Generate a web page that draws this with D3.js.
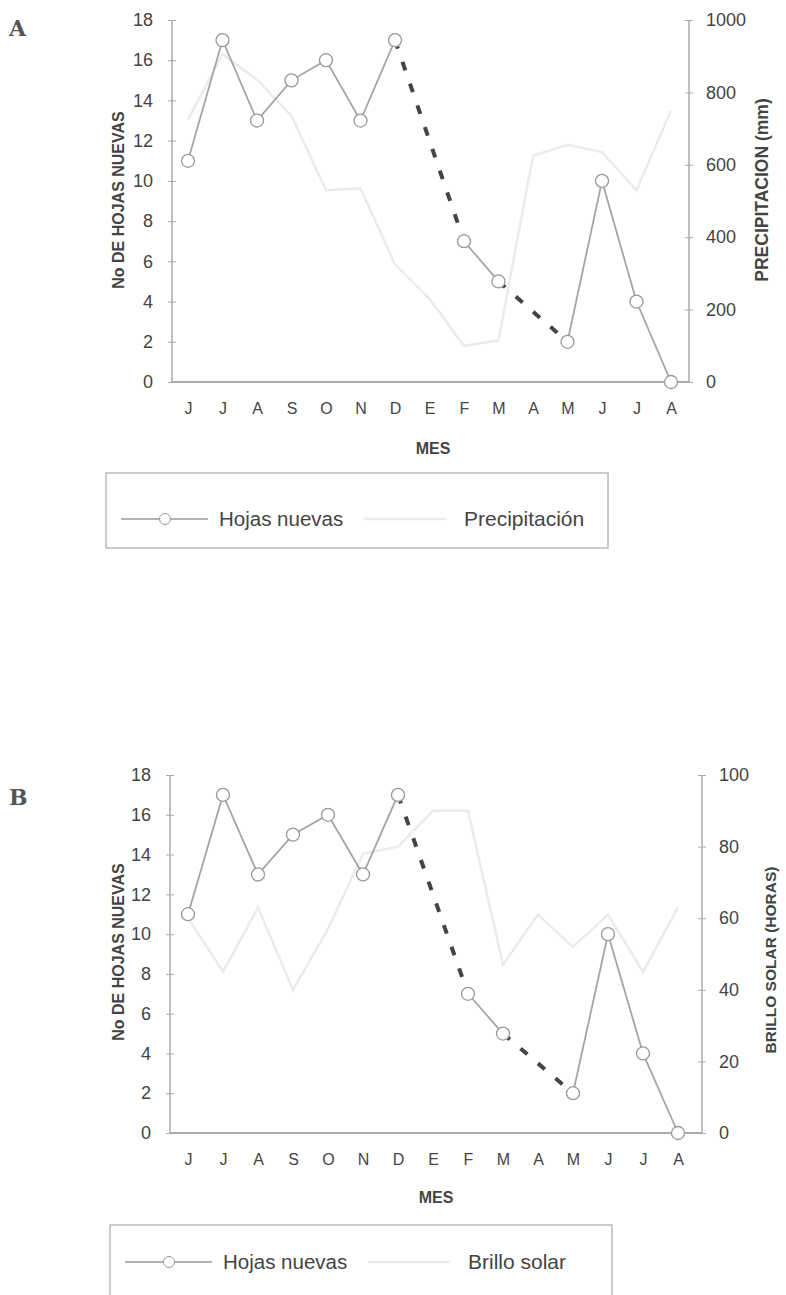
<!DOCTYPE html>
<html>
<head>
<meta charset="utf-8">
<script src="https://cdn.jsdelivr.net/npm/d3@7"></script>
<style>
  body { margin: 0; background: #fff; }
  svg text { font-family: "Liberation Sans", Arial, sans-serif; fill: #444; }
</style>
</head>
<body>
<div id="chart"></div>
<script>
const months = ["J", "J", "A", "S", "O", "N", "D", "E", "F", "M", "A", "M", "J", "J", "A"];
const hojasNuevas = [11, 17, 13, 15, 16, 13, 17, null, 7, 5, null, 2, 10, 4, 0];
const precipitacion = [725, 905, 835, 735, 530, 535, 325, 230, 100, 115, 625, 655, 635, 530, 750];
const brilloSolar = [60, 45, 63, 40, 57, 78, 80, 90, 90, 47, 61, 52, 61, 45, 63];
const hojasTicks = [0, 2, 4, 6, 8, 10, 12, 14, 16, 18];
const precipTicks = [0, 200, 400, 600, 800, 1000];
const brilloTicks = [0, 20, 40, 60, 80, 100];

let svg = d3.select("#chart").append("svg")
    .attr("width", 786)
    .attr("height", 1295);

function styleTicks(sel, size) {
    sel.selectAll("text")
        .style("font-size", size + "px")
        .style("fill", "#444")
        .style("font-family", "'Liberation Sans', Arial, sans-serif");
}

function drawPanel(p) {
    let x = d3.scalePoint()
        .domain(d3.range(months.length))
        .range([p.x0, p.x1]);
    let yL = d3.scaleLinear().domain([0, 18]).range([p.yBottom, p.yTop]);
    let yR = d3.scaleLinear().domain([0, p.rMax]).range([p.yBottom, p.yTop]);

    let g = svg.append("g");

    // panel letter
    g.append("text")
        .attr("x", 9).attr("y", p.letterY)
        .style("font-family", "'DejaVu Serif', 'Liberation Serif', serif")
        .style("font-weight", "bold")
        .style("font-size", "22px")
        .style("fill", "#555")
        .text(p.letter);

    // left axis
    let left = g.append("g")
        .attr("transform", "translate(" + p.axL + ",0)")
        .call(d3.axisLeft(yL).tickValues(hojasTicks).tickSize(4).tickPadding(15));
    left.selectAll("line").attr("x2", 4).attr("x1", -4).attr("stroke", "#aaa");
    left.select(".domain").attr("stroke", "#aaa").attr("stroke-width", 1.5).attr("d", "M0," + p.yBottom + "V" + p.yTop);
    styleTicks(left, 18);

    // right axis
    let right = g.append("g")
        .attr("transform", "translate(" + p.axR + ",0)")
        .call(d3.axisRight(yR).tickValues(p.rTicks).tickSize(4).tickPadding(13).tickFormat(d3.format("d")));
    right.selectAll("line").attr("x1", -4).attr("x2", 4).attr("stroke", "#aaa");
    right.select(".domain").attr("stroke", "#aaa").attr("stroke-width", 1.5).attr("d", "M0," + p.yBottom + "V" + p.yTop);
    styleTicks(right, 18);

    // bottom axis
    let bottom = g.append("g")
        .attr("transform", "translate(0," + p.yBottom + ")")
        .call(d3.axisBottom(x).tickSize(0).tickPadding(21).tickFormat(i => months[i]));
    bottom.select(".domain").attr("stroke", "#aaa").attr("stroke-width", 2)
        .attr("d", "M" + p.axL + ",0H" + p.axR);
    styleTicks(bottom, 16);

    // axis titles
    g.append("text")
        .attr("transform", "translate(" + p.titleLX + "," + p.titleLY + ") rotate(-90)")
        .attr("text-anchor", "middle")
        .style("font-weight", "bold").style("font-size", "16px")
        .text("No DE HOJAS NUEVAS");
    g.append("text")
        .attr("transform", "translate(" + p.titleRX + "," + p.titleRY + ") rotate(-90)")
        .attr("text-anchor", "middle")
        .style("font-weight", "bold").style("font-size", p.rTitleSize + "px")
        .text(p.rTitle);
    g.append("text")
        .attr("x", p.mesX).attr("y", p.mesY)
        .attr("text-anchor", "middle")
        .style("font-weight", "bold").style("font-size", "16px")
        .text("MES");

    // secondary series (very light)
    let lineR = d3.line().x((d, i) => x(i)).y(d => yR(d));
    g.append("path")
        .datum(p.rValues)
        .attr("d", lineR)
        .attr("fill", "none")
        .attr("stroke", "#ebebeb")
        .attr("stroke-width", 2.5);

    // dashed bridges over missing months
    let idx = hojasNuevas.map((d, i) => d == null ? null : i).filter(i => i != null);
    for (let k = 1; k < idx.length; k++) {
        if (idx[k] - idx[k - 1] > 1) {
            g.append("line")
                .attr("x1", x(idx[k - 1])).attr("y1", yL(hojasNuevas[idx[k - 1]]))
                .attr("x2", x(idx[k])).attr("y2", yL(hojasNuevas[idx[k]]))
                .attr("stroke", "#444")
                .attr("stroke-width", 4)
                .attr("stroke-dasharray", "9,14");
        }
    }

    // hojas nuevas
    let lineL = d3.line().defined(d => d != null).x((d, i) => x(i)).y(d => yL(d));
    g.append("path")
        .datum(hojasNuevas)
        .attr("d", lineL)
        .attr("fill", "none")
        .attr("stroke", "#a5a5a5")
        .attr("stroke-width", 1.8);

    g.selectAll("circle.pt")
        .data(hojasNuevas.map((d, i) => ({v: d, i: i})).filter(d => d.v != null))
        .enter()
        .append("circle")
        .attr("class", "pt")
        .attr("cx", d => x(d.i))
        .attr("cy", d => yL(d.v))
        .attr("r", 6.5)
        .attr("fill", "#fff")
        .attr("stroke", "#999")
        .attr("stroke-width", 1.3);

    // legend
    let lg = g.append("g");
    lg.append("rect")
        .attr("x", p.lgX).attr("y", p.lgY)
        .attr("width", p.lgW).attr("height", p.lgH)
        .attr("fill", "none")
        .attr("stroke", "#bbb")
        .attr("stroke-width", 1.5);
    let ly = p.lgY + p.lgLine;
    lg.append("line")
        .attr("x1", p.lgX + 15).attr("x2", p.lgX + 102)
        .attr("y1", ly).attr("y2", ly)
        .attr("stroke", "#999").attr("stroke-width", 1.5);
    lg.append("circle")
        .attr("cx", p.lgX + 59).attr("cy", ly).attr("r", 5.5)
        .attr("fill", "#fff").attr("stroke", "#999");
    lg.append("text")
        .attr("x", p.lgX + 113).attr("y", ly + 7)
        .style("font-size", "20.5px")
        .text("Hojas nuevas");
    lg.append("line")
        .attr("x1", p.lgX + 258).attr("x2", p.lgX + 340)
        .attr("y1", ly).attr("y2", ly)
        .attr("stroke", "#ebebeb").attr("stroke-width", 2.5);
    lg.append("text")
        .attr("x", p.lgText2).attr("y", ly + 7)
        .style("font-size", "21px")
        .text(p.rLegend);
}

drawPanel({
    letter: "A", letterY: 36,
    x0: 188, x1: 671, axL: 172, axR: 689,
    yTop: 20, yBottom: 382,
    rMax: 1000, rTicks: precipTicks, rValues: precipitacion,
    rTitle: "PRECIPITACION (mm)", rTitleSize: 17.5, rLegend: "Precipitación",
    titleLX: 124, titleLY: 200, titleRX: 768, titleRY: 190,
    mesX: 433, mesY: 454,
    lgX: 106, lgY: 473, lgW: 502, lgH: 75, lgLine: 46, lgText2: 464
});

drawPanel({
    letter: "B", letterY: 805,
    x0: 188, x1: 678, axL: 170, axR: 702,
    yTop: 775, yBottom: 1133,
    rMax: 100, rTicks: brilloTicks, rValues: brilloSolar,
    rTitle: "BRILLO SOLAR (HORAS)", rTitleSize: 15.5, rLegend: "Brillo solar",
    titleLX: 124, titleLY: 952, titleRX: 776, titleRY: 960,
    mesX: 436, mesY: 1203,
    lgX: 110, lgY: 1225, lgW: 502, lgH: 90, lgLine: 37, lgText2: 468
});
</script>
</body>
</html>
